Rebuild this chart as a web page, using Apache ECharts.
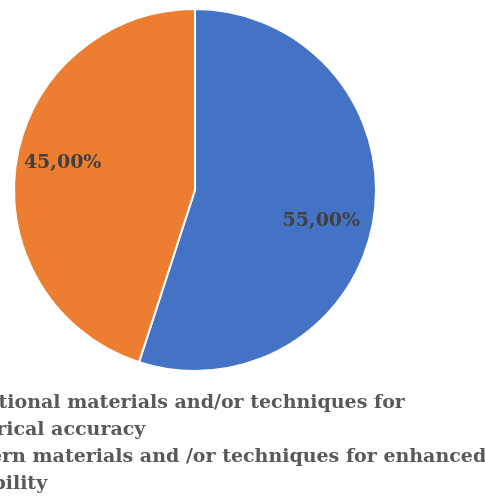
<!DOCTYPE html>
<html><head><meta charset="utf-8">
<script src="https://cdn.jsdelivr.net/npm/echarts@6/dist/echarts.min.js"></script>
<style>html,body{margin:0;padding:0;background:#fff}#c{width:485px;height:497px}</style>
</head><body><div id="c"></div>
<script>
const categories = [
  'Modern materials and /or techniques for enhanced\ndurability',
  'Traditional materials and/or techniques for\nhistorical accuracy'
];
const values = [55, 45];
const colors = ['#4472C4', '#ED7D31'];
const legendOrder = [categories[1], categories[0]];
const labelNudge = [[34, 16], [-40, -12]];

const cx = 195, cy = 190;
const chart = echarts.init(document.getElementById('c'));
chart.setOption({
  animation: false,
  color: colors,
  legend: {
    orient: 'vertical',
    left: -73,
    top: 390,
    height: 120,
    padding: 0,
    itemGap: 0,
    itemWidth: 10,
    itemHeight: 10,
    data: legendOrder,
    textStyle: {
      fontFamily: 'DejaVu Serif',
      fontWeight: 'bold',
      fontSize: 19,
      color: '#595959',
      lineHeight: 27
    }
  },
  series: [{
    type: 'pie',
    center: [cx, cy],
    radius: ['0%', 181],
    startAngle: 90,
    clockwise: true,
    itemStyle: { borderColor: '#fff', borderWidth: 2 },
    label: {
      position: 'inside',
      formatter: p => p.value.toFixed(2).replace('.', ',') + '%',
      fontFamily: 'DejaVu Serif',
      fontWeight: 'bold',
      fontSize: 19,
      color: '#404040'
    },
    labelLine: { show: false },
    labelLayout: function (params) {
      const n = labelNudge[params.dataIndex];
      return { dx: n[0], dy: n[1] };
    },
    data: categories.map((n, i) => ({ name: n, value: values[i] }))
  }]
});
</script></body></html>
